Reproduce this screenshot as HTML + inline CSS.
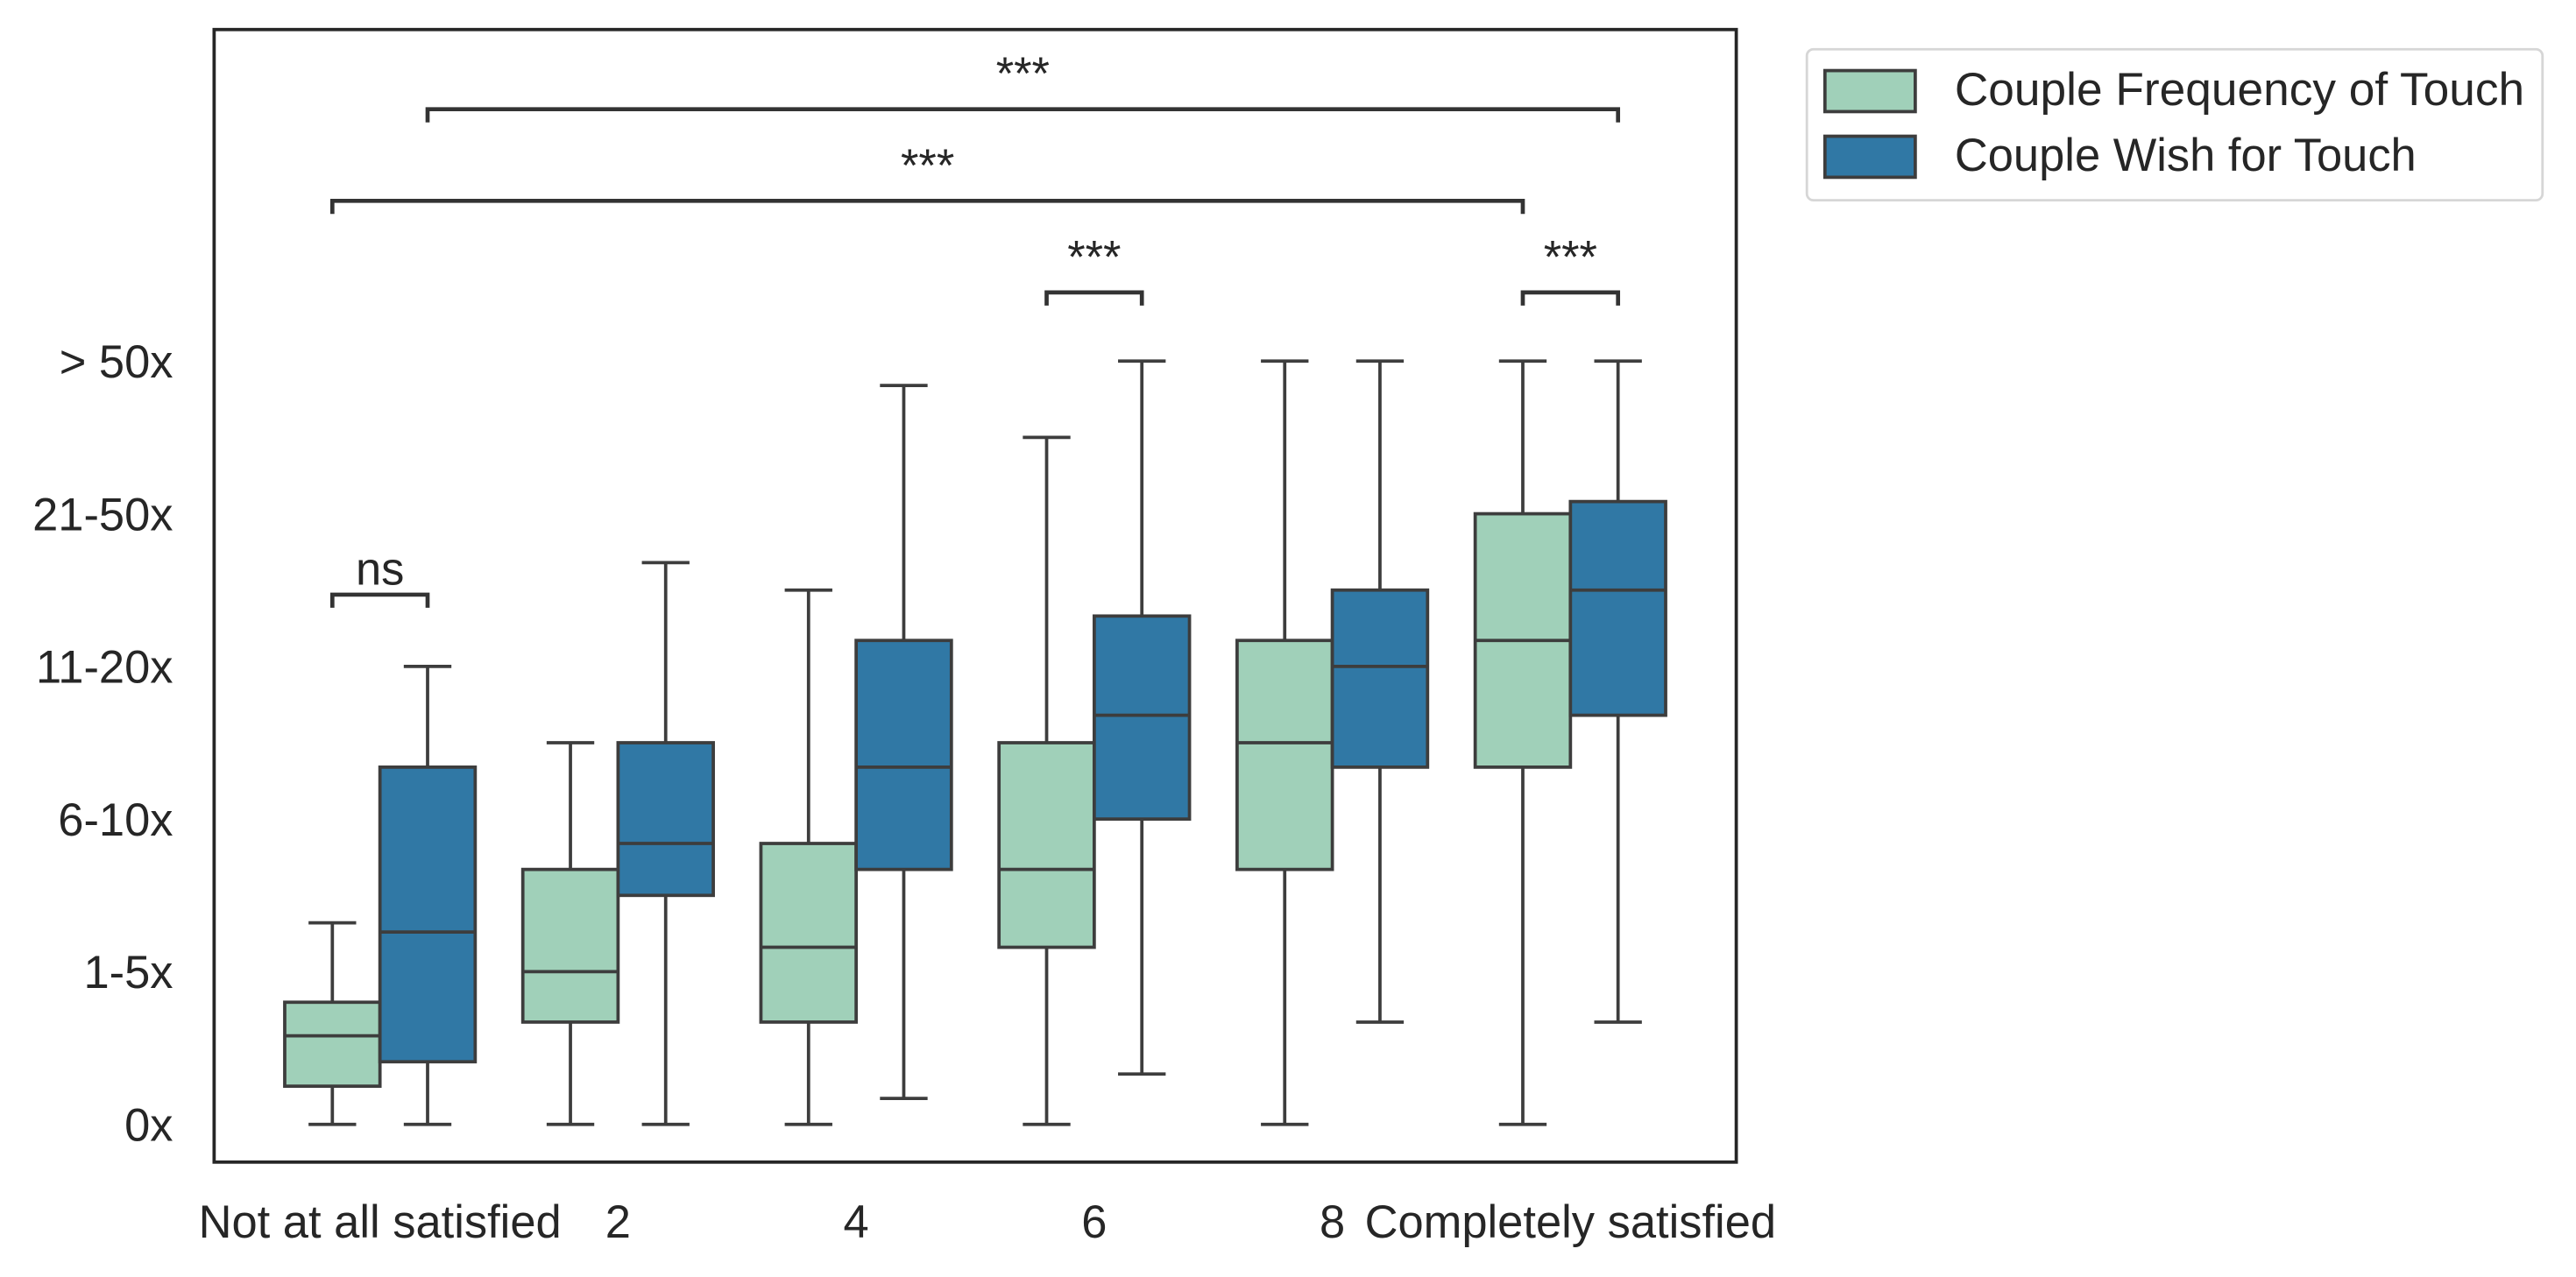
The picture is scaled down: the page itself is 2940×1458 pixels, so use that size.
<!DOCTYPE html>
<html><head><meta charset="utf-8">
<style>
html,body{margin:0;padding:0;background:#fff;}
svg{display:block;}
text{font-family:"Liberation Sans",Arial,sans-serif;fill:#262626;}
</style></head>
<body>
<svg id="chart" width="2940" height="1458" viewBox="0 0 1568 778" xmlns="http://www.w3.org/2000/svg">
  <rect x="0" y="0" width="1568" height="778" fill="#fff"/>
  <g id="boxes"></g>
  <g id="axes"></g>
  <g id="annot"></g>
  <rect x="130" y="18" width="927" height="690" fill="none" stroke="#262626" stroke-width="2"/>
  <g>
    <rect x="1100" y="30" width="448" height="92" rx="4" fill="#fff" stroke="#d6d6d6" stroke-width="1.5"/>
    <g>
      <rect x="1111" y="43" width="55" height="25" fill="#a0d0b9" stroke="#3d3d3d" stroke-width="2"/>
      <text x="1190" y="64" font-size="28" textLength="347" lengthAdjust="spacingAndGlyphs">Couple Frequency of Touch</text>
    </g>
    <g>
      <rect x="1111" y="83" width="55" height="25" fill="#3078a5" stroke="#3d3d3d" stroke-width="2"/>
      <text x="1190" y="104" font-size="28">Couple Wish for Touch</text>
    </g>
  </g>
</svg>
<script>
const categories = ["Not at all satisfied","2","4","6","8","Completely satisfied"];
const yTickLabels = ["0x","1-5x","6-10x","11-20x","21-50x","> 50x"];
// [low whisker, q1, median, q3, high whisker]
const freqStats = [
  [0,0.25,0.58,0.8,1.32],
  [0,0.67,1.0,1.67,2.5],
  [0,0.67,1.16,1.84,3.5],
  [0,1.16,1.67,2.5,4.5],
  [0,1.67,2.5,3.17,5],
  [0,2.34,3.17,4.0,5]
];
const wishStats = [
  [0,0.41,1.26,2.34,3.0],
  [0,1.5,1.84,2.5,3.68],
  [0.17,1.67,2.34,3.17,4.84],
  [0.33,2.0,2.68,3.33,5],
  [0.67,2.34,3.0,3.5,5],
  [0.67,2.68,3.5,4.08,5]
];
// [fromCategory, fromSeries(0/1), toCategory, toSeries, level, label]
const annotations = [
  [0,0,0,1,3.47,"ns"],
  [3,0,3,1,5.45,"***"],
  [5,0,5,1,5.45,"***"],
  [0,0,5,0,6.05,"***"],
  [0,1,5,1,6.65,"***"]
];
const NS="http://www.w3.org/2000/svg";
const yPx = v => 685 - v*93;
const xCat = i => 231 + i*145;
const off = s => s===0 ? -29 : 29;
const BW = 58;
function el(tag, attrs, parent){const e=document.createElementNS(NS,tag);for(const k in attrs)e.setAttribute(k,attrs[k]);parent.appendChild(e);return e;}
const gB=document.getElementById('boxes'), gA=document.getElementById('axes'), gN=document.getElementById('annot');
function drawBox(st, cx, fill, name){
  const g=el('g',{},gB);
  
  
  const s={stroke:'#3d3d3d','stroke-width':2};
  el('line',Object.assign({x1:cx,x2:cx,y1:yPx(st[0]),y2:yPx(st[1])},s),g);
  el('line',Object.assign({x1:cx,x2:cx,y1:yPx(st[3]),y2:yPx(st[4])},s),g);
  el('line',Object.assign({x1:cx-14.5,x2:cx+14.5,y1:yPx(st[0]),y2:yPx(st[0])},s),g);
  el('line',Object.assign({x1:cx-14.5,x2:cx+14.5,y1:yPx(st[4]),y2:yPx(st[4])},s),g);
  el('rect',Object.assign({x:cx-BW/2,y:yPx(st[3]),width:BW,height:yPx(st[1])-yPx(st[3]),fill:fill},s),g);
  el('line',Object.assign({x1:cx-BW/2,x2:cx+BW/2,y1:yPx(st[2]),y2:yPx(st[2])},s),g);
}
categories.forEach((c,i)=>{
  drawBox(freqStats[i], xCat(i)+off(0), '#a0d0b9', 'box-frequency-'+i);
  drawBox(wishStats[i], xCat(i)+off(1), '#3078a5', 'box-wish-'+i);
  const t=el('text',{x:xCat(i),y:754,'font-size':28,'text-anchor':'middle'},gA);
  t.textContent=c;
  
  
});
yTickLabels.forEach((l,i)=>{
  const t=el('text',{x:105,y:yPx(i)+10,'font-size':28,'text-anchor':'end'},gA);
  t.textContent=l;
  
  
});
annotations.forEach(a=>{
  const x1=xCat(a[0])+off(a[1]), x2=xCat(a[2])+off(a[3]), y=yPx(a[4]);
  const g=el('g',{},gN);
  
  
  el('path',{d:`M${x1},${y+8}L${x1},${y}L${x2},${y}L${x2},${y+8}`,fill:'none',stroke:'#333','stroke-width':2.5},g);
  const t=el('text',{x:(x1+x2)/2,y:a[5]==='ns'?y-6:y-12,'font-size':28,'text-anchor':'middle'},g);
  t.textContent=a[5];
});
</script>
</body></html>
